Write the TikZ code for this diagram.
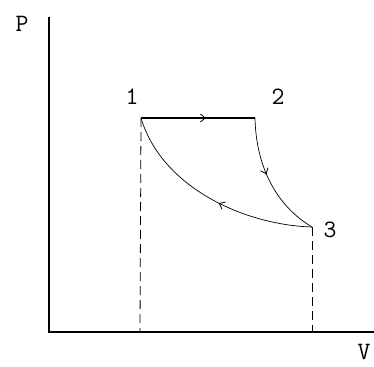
\documentclass[tikz,border=0pt]{standalone}
\usepackage{fontspec}
\usetikzlibrary{decorations.markings,arrows.meta}
\begin{document}
\begin{tikzpicture}[x=1pt,y=-1pt,
  lbl/.style={font=\ttfamily\fontsize{25}{25}\selectfont, inner sep=0pt},
  axis/.style={line width=1.3pt},
  proc/.style={line width=0.7pt},
  drop/.style={line width=0.8pt, dash pattern=on 9pt off 5pt},
  midarrow/.style={postaction={decorate}, decoration={markings,
     mark=at position #1 with {\arrow{Straight Barb[length=5pt,width=8pt,line width=0.8pt]}}}}]
\useasboundingbox (0,0) rectangle (374,366);
\coordinate (O) at (49,332);
\coordinate (ytop) at (49,17);
\coordinate (xend) at (374,332);
\coordinate (p1) at (141,118);
\coordinate (p2) at (255,118);
\coordinate (p3) at (312,227);
\coordinate (f1) at (140,332);
\coordinate (f3) at (312,332);
\draw[axis] (ytop) -- (O) -- (xend);
\node[lbl] (P) at (22,24) {P};
\node[lbl] (V) at (364,352) {V};
\node[lbl] (l1) at (132,97) {1};
\node[lbl] (l2) at (278,97) {2};
\node[lbl] (l3) at (330,230) {3};
\draw[drop] (p1) -- (f1);
\draw[drop] (p3) -- (f3);
\draw[line width=1.5pt, midarrow=0.57] (p1) -- (p2);
\draw[proc, midarrow=0.45] (p2) .. controls (256,165) and (275,205) .. (p3);
\draw[proc, midarrow=0.45] (p3) .. controls (245,225) and (162,188) .. (p1);
\end{tikzpicture}
\end{document}
